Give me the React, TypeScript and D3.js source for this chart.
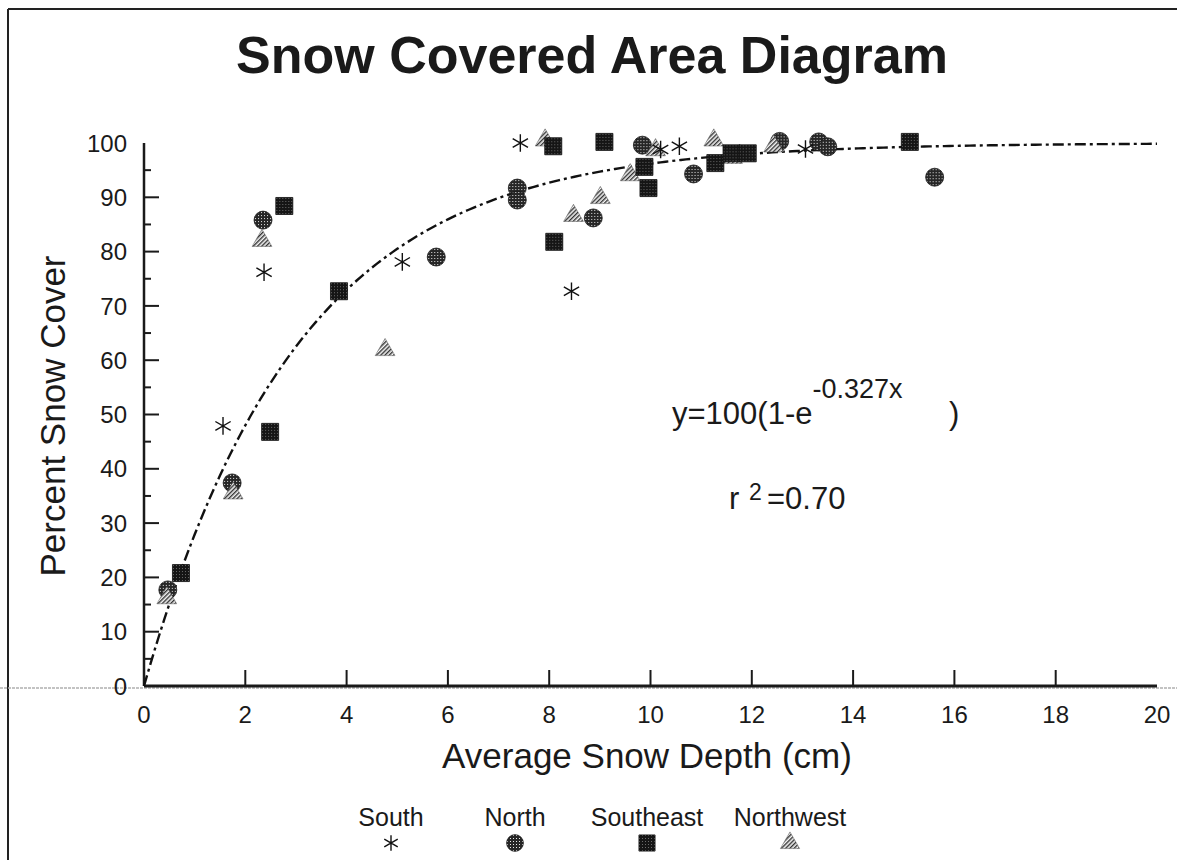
import React from "react";
import * as d3 from "d3";

// ---- data ----
const xTicks = [0, 2, 4, 6, 8, 10, 12, 14, 16, 18, 20];
const yTicks = [0, 10, 20, 30, 40, 50, 60, 70, 80, 90, 100];
const yMinorTicks = [5, 15, 25, 35, 45, 55, 65, 75, 85, 95];

const southX = [1.56, 2.37, 5.1, 7.43, 8.44, 10.2, 10.57, 13.06];
const southY = [47.9, 76.2, 78.1, 100, 72.7, 98.8, 99.4, 98.9];

const northX = [0.47, 1.74, 2.35, 5.77, 7.37, 7.37, 8.87, 9.84, 10.85, 12.55, 13.32, 13.5, 15.61];
const northY = [17.7, 37.4, 85.8, 79.0, 91.7, 89.5, 86.2, 99.6, 94.3, 100.3, 100.2, 99.3, 93.7];

const southeastX = [0.73, 2.49, 2.77, 3.85, 8.08, 8.1, 9.09, 9.88, 9.96, 11.28, 11.6, 11.92, 15.12];
const southeastY = [20.8, 46.8, 88.4, 72.7, 99.4, 81.8, 100.2, 95.6, 91.7, 96.3, 98.1, 98.1, 100.2];

const northwestX = [0.45, 1.76, 2.33, 4.76, 7.92, 8.48, 9.01, 9.6, 10.1, 11.25, 11.62, 12.43];
const northwestY = [16.2, 35.5, 82.0, 61.9, 100.5, 86.6, 89.9, 94.1, 98.7, 100.5, 97.3, 99.4];

const seriesNames = ["South", "North", "Southeast", "Northwest"];
const fitK = 0.327;
const fitA = 100;
const rSquaredText = "0.70";

const FONT = "'Liberation Sans', Arial, Helvetica, sans-serif";

export default function App() {
  const W = 1177;
  const H = 860;
  const x = d3.scaleLinear().domain([0, 20]).range([144, 1157]);
  const y = d3.scaleLinear().domain([0, 100]).range([686, 143]);

  const fitPts = d3.range(0, 20.0001, 0.1).map((v) => [v, fitA * (1 - Math.exp(-fitK * v))] as [number, number]);
  const fitLine = d3
    .line<[number, number]>()
    .x((d) => x(d[0]))
    .y((d) => y(d[1]))(fitPts) as string;

  const sym = (type: d3.SymbolType, size: number) => d3.symbol().type(type).size(size)() as string;
  const circlePath = sym(d3.symbolCircle, 254);
  const squarePath = sym(d3.symbolSquare, 290);
  const trianglePath = sym(d3.symbolTriangle, 170);
  const asteriskPath = sym(d3.symbolAsterisk, 220);
  const circleLeg = sym(d3.symbolCircle, 220);
  const squareLeg = sym(d3.symbolSquare, 260);
  const triangleLeg = sym(d3.symbolTriangle, 160);
  const asteriskLeg = sym(d3.symbolAsterisk, 170);

  const series = [
    { name: seriesNames[0], xs: southX, ys: southY, path: asteriskPath, leg: asteriskLeg, fill: "none", stroke: "#111", sw: 1.4 },
    { name: seriesNames[1], xs: northX, ys: northY, path: circlePath, leg: circleLeg, fill: "url(#patN)", stroke: "#1a1a1a", sw: 0.8 },
    { name: seriesNames[2], xs: southeastX, ys: southeastY, path: squarePath, leg: squareLeg, fill: "url(#patSE)", stroke: "#111", sw: 0.8 },
    { name: seriesNames[3], xs: northwestX, ys: northwestY, path: trianglePath, leg: triangleLeg, fill: "url(#patNW)", stroke: "#555", sw: 0.5 },
  ];
  const drawOrder = [1, 3, 2, 0];
  const legendX = [391, 515, 647, 790];

  return (
    <div style={{ position: "absolute", left: 0, top: 0 }}>
      <svg width={W} height={H} style={{ display: "block", background: "#fff" }} fontFamily={FONT}>
        <defs>
          <pattern id="patN" width="3" height="3" patternUnits="userSpaceOnUse">
            <rect width="3" height="3" fill="#262626" />
            <rect x="1" y="1" width="1" height="1" fill="#e8e8e8" />
          </pattern>
          <pattern id="patSE" width="3" height="3" patternUnits="userSpaceOnUse">
            <rect width="3" height="3" fill="#151515" />
            <rect x="1" y="1" width="1" height="1" fill="#6a6a6a" />
          </pattern>
          <pattern id="patNW" width="3" height="3" patternUnits="userSpaceOnUse" patternTransform="rotate(45)">
            <rect width="3" height="3" fill="#f4f4f4" />
            <rect width="1.4" height="3" fill="#333" />
          </pattern>
        </defs>

        {/* frame */}
        <line x1={8} y1={9} x2={W} y2={9} stroke="#222" strokeWidth={2} />
        <line x1={8} y1={9} x2={8} y2={H} stroke="#222" strokeWidth={2} />

        {/* scan artifact line */}
        <line x1={0} y1={688} x2={W} y2={688} stroke="#b0b0b0" strokeWidth={1.5} strokeDasharray="3 1" />

        {/* title */}
        <text x={592} y={73} textAnchor="middle" fontSize={52} fontWeight="bold" fill="#1a1a1a">
          Snow Covered Area Diagram
        </text>

        {/* axes */}
        <line x1={x(0)} y1={y(100)} x2={x(0)} y2={y(0)} stroke="#1a1a1a" strokeWidth={2.5} />
        <line x1={x(0)} y1={y(0)} x2={x(20)} y2={y(0)} stroke="#1a1a1a" strokeWidth={3} />

        {yTicks.filter((t) => t > 0 && t < 100).map((t) => (
          <line key={"yt" + t} x1={x(0)} x2={x(0) + 15} y1={y(t)} y2={y(t)} stroke="#1a1a1a" strokeWidth={2} />
        ))}
        {yMinorTicks.map((t) => (
          <line key={"ym" + t} x1={x(0)} x2={x(0) + 7} y1={y(t)} y2={y(t)} stroke="#1a1a1a" strokeWidth={2} />
        ))}
        {yTicks.map((t) => (
          <text key={"yl" + t} x={127} y={y(t)} dy="0.36em" textAnchor="end" fontSize={24} fill="#1a1a1a">
            {t}
          </text>
        ))}

        {xTicks.filter((t) => t > 0 && t < 20).map((t) => (
          <line key={"xt" + t} x1={x(t)} x2={x(t)} y1={y(0)} y2={y(0) - 16} stroke="#1a1a1a" strokeWidth={2} />
        ))}
        {xTicks.map((t) => (
          <text key={"xl" + t} x={x(t)} y={723} textAnchor="middle" fontSize={24} fill="#1a1a1a">
            {t}
          </text>
        ))}

        {/* axis titles */}
        <text x={647} y={768} textAnchor="middle" fontSize={35} fill="#1a1a1a">
          Average Snow Depth (cm)
        </text>
        <text transform={`translate(65,416) rotate(-90)`} textAnchor="middle" fontSize={35} fill="#1a1a1a">
          Percent Snow Cover
        </text>

        {/* fitted curve */}
        <path d={fitLine} fill="none" stroke="#111" strokeWidth={2.4} strokeDasharray="11 4 3 4" />

        {/* points */}
        {drawOrder.map((si) => {
          const s = series[si];
          return (
            <g key={s.name}>
              {s.xs.map((xv, i) => (
                <path
                  key={i}
                  d={s.path}
                  transform={`translate(${x(xv)},${y(s.ys[i])})`}
                  fill={s.fill}
                  stroke={s.stroke}
                  strokeWidth={s.sw}
                />
              ))}
            </g>
          );
        })}

        {/* equation */}
        <text x={672} y={424} fontSize={31} fill="#1a1a1a">
          <tspan>y=100(1-e</tspan>
          <tspan dy={-26} fontSize={27}>{`-${fitK}x`}</tspan>
          <tspan x={949} dy={26} fontSize={31}>)</tspan>
        </text>
        <text x={729} y={509} fontSize={31} fill="#1a1a1a">
          <tspan>r</tspan>
          <tspan x={749} dy={-9} fontSize={23}>2</tspan>
          <tspan x={767} dy={9} fontSize={31}>{`=${rSquaredText}`}</tspan>
        </text>

        {/* legend */}
        {series.map((s, i) => (
          <g key={"lg" + s.name}>
            <text x={legendX[i]} y={826} textAnchor="middle" fontSize={25} fill="#1a1a1a">
              {s.name}
            </text>
            <path
              d={s.leg}
              transform={`translate(${legendX[i]},${843})`}
              fill={s.fill}
              stroke={s.stroke}
              strokeWidth={s.sw}
            />
          </g>
        ))}
      </svg>
    </div>
  );
}
